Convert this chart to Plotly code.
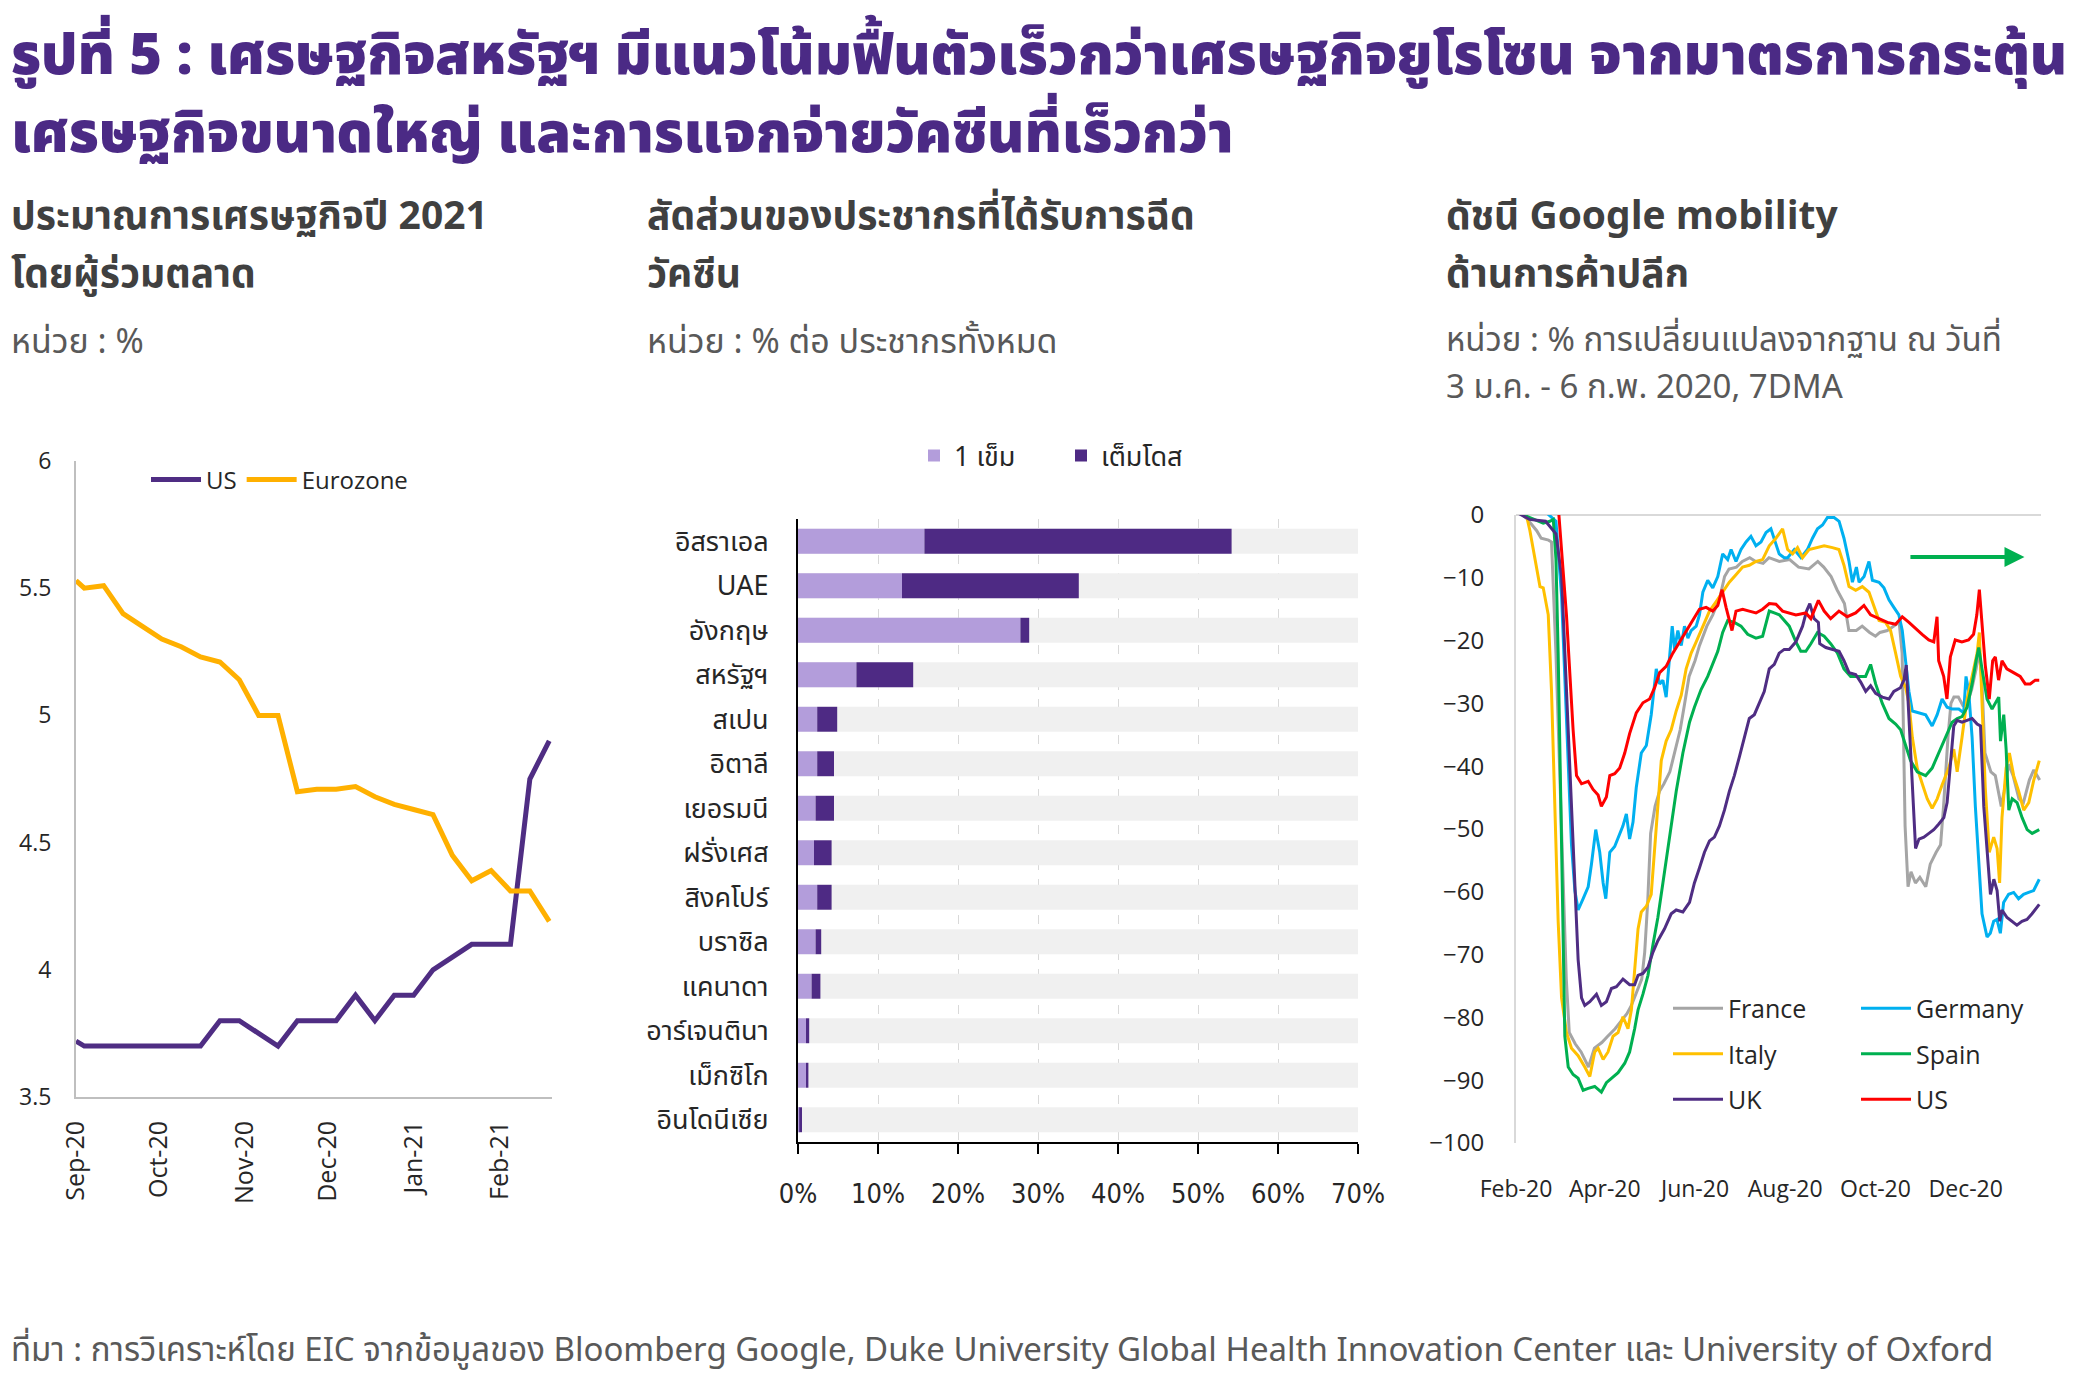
import pandas as pd
import plotly.graph_objects as go

W, H = 2085, 1388

# ---------------- data: left chart (consensus GDP forecast 2021) ----------------
gdp_dates = ["2020-09-01", "2020-09-04", "2020-09-11", "2020-09-18", "2020-09-25", "2020-10-02",
             "2020-10-09", "2020-10-16", "2020-10-23", "2020-10-30", "2020-11-06", "2020-11-13",
             "2020-11-20", "2020-11-27", "2020-12-04", "2020-12-11", "2020-12-18", "2020-12-25",
             "2021-01-01", "2021-01-08", "2021-01-15", "2021-01-22", "2021-01-29", "2021-02-05",
             "2021-02-12", "2021-02-19"]
gdp_us = [3.72, 3.70, 3.70, 3.70, 3.70, 3.70, 3.70, 3.70, 3.80, 3.80, 3.75, 3.70, 3.80,
          3.80, 3.80, 3.90, 3.80, 3.90, 3.90, 4.00, 4.05, 4.10, 4.10, 4.10, 4.75, 4.90]
gdp_ez = [5.53, 5.50, 5.51, 5.40, 5.35, 5.30, 5.27, 5.23, 5.21, 5.14, 5.00, 5.00, 4.70,
          4.71, 4.71, 4.72, 4.68, 4.65, 4.63, 4.61, 4.45, 4.35, 4.39, 4.31, 4.31, 4.19]

# ---------------- data: middle chart (vaccination share) ----------------
vac_countries = ["อิสราเอล", "UAE", "อังกฤษ", "สหรัฐฯ", "สเปน", "อิตาลี", "เยอรมนี", "ฝรั่งเศส",
                 "สิงคโปร์", "บราซิล", "แคนาดา", "อาร์เจนตินา", "เม็กซิโก", "อินโดนีเซีย"]
vac_one_dose = [15.8, 13.0, 27.8, 7.3, 2.4, 2.4, 2.2, 2.0, 2.4, 2.2, 1.7, 1.0, 1.0, 0.15]
vac_full_dose = [38.4, 22.1, 1.1, 7.1, 2.5, 2.1, 2.3, 2.2, 1.8, 0.7, 1.1, 0.4, 0.3, 0.35]
vac_axis_max = 70

# ---------------- data: right chart (Google mobility, retail) ----------------
MOB_START = "2020-02-15"   # day 0
fr_days = [0, 7, 14, 17, 22, 24, 27, 31, 34, 36, 40, 44, 49, 53, 58, 62, 67, 71, 75, 78, 81, 85, 87, 89,
           91, 94, 97, 100, 104, 107, 111, 114, 117, 121, 124, 129, 133, 138, 141, 144, 149, 153, 158,
           162, 167, 171, 178, 185, 191, 198, 204, 208, 213, 217, 222, 225, 230, 234, 239, 243, 246,
           251, 255, 259, 261, 262, 263, 265, 267, 270, 273, 277, 280, 284, 287, 289, 292, 294, 296,
           299, 302, 305, 308, 311, 313, 315, 317, 321, 324, 328, 330, 333, 336, 340, 343, 347, 350, 354]
fr_vals = [1, -0.5, -2.5, -3.7, -4.0, -4.3, -22.0, -52.5, -73.9, -82.4, -84.2, -85.5, -87.9, -84.9,
           -84.0, -83.0, -81.8, -80.6, -79.4, -78.1, -76.3, -73.9, -69.6, -61.7, -50.7, -46.4, -44.0,
           -42.8, -40.9, -37.9, -34.2, -30.0, -25.7, -23.2, -20.8, -17.7, -15.9, -12.9, -9.8, -8.6,
           -8.3, -7.4, -6.8, -7.4, -7.7, -6.8, -7.4, -7.1, -8.3, -8.6, -7.4, -8.3, -9.8, -11.9, -14.1,
           -18.4, -18.4, -17.7, -18.7, -19.3, -18.7, -18.4, -17.7, -17.1, -22.0, -34.2, -49.5, -59.2,
           -56.8, -58.6, -57.7, -59.2, -55.6, -53.7, -52.5, -46.4, -35.4, -30.0, -29.0, -29.0, -30.3,
           -30.0, -27.8, -24.5, -21.4, -26.9, -37.9, -40.9, -41.5, -46.4, -44.0, -39.7, -41.5, -45.2,
           -45.8, -42.2, -40.6, -42.2]

de_days = [0, 10, 20, 27, 30.8, 33, 35.3, 37.5, 39.8, 42, 45.4, 48.8, 51, 53.9, 56.6, 58.9, 60.7, 63.4,
           66.7, 70.1, 72.3, 74.6, 76.8, 79.1, 81.3, 84.7, 88.1, 91.4, 94.8, 97.1, 99.3, 101.5, 103.8,
           105.6, 107.2, 109.4, 111.7, 113.9, 116.2, 118.4, 121.8, 124, 126.3, 129.6, 133, 136.4,
           139.7, 143.1, 145.4, 148.7, 152.1, 155.5, 158.8, 162.2, 165.6, 169, 172.3, 174.6, 177.9,
           181.3, 183.6, 188.1, 192.6, 197, 200.4, 203.8, 207.2, 210.5, 215, 218.4, 221.7, 225.1,
           227.4, 230.1, 231.9, 235.3, 238.6, 240.9, 245.4, 248.7, 252.1, 255.4, 258.8, 261.1, 263.4,
           265.6, 267.9, 272.4, 276.9, 281.3, 284.7, 288, 291.4, 294.8, 299.3, 302.6, 304.2, 306,
           308.3, 310.5, 312.8, 315, 318.4, 320.6, 322.9, 325.1, 327.4, 329.6, 333, 336.4, 339.7,
           343.1, 346.5, 349.9, 353.7]
de_vals = [1, 1, 0.5, -1, -12.9, -25.1, -40.3, -52.5, -59.8, -62.9, -61.1, -59.2, -55.6, -50.1, -53.7,
           -58.6, -61.1, -53.7, -52.8, -50.7, -49.5, -47.6, -51.6, -48.9, -43.4, -37.9, -36.7, -31.8,
           -24.5, -26.9, -26.3, -29.0, -23.2, -17.7, -21.4, -18.4, -20.8, -17.7, -19.6, -18.4, -17.7,
           -15.9, -12.3, -10.4, -11.6, -9.8, -6.2, -7.1, -5.5, -7.4, -5.5, -4.3, -3.4, -4.9, -4.3,
           -2.8, -2.2, -4.0, -6.2, -6.8, -6.8, -5.5, -6.8, -5.5, -3.7, -2.2, -1.6, -0.4, -0.4, -1.0,
           -3.7, -7.4, -10.7, -8.3, -10.7, -9.8, -7.4, -10.4, -10.7, -11.6, -13.5, -14.7, -15.9,
           -18.4, -23.2, -28.1, -31.2, -31.5, -31.8, -33.6, -31.8, -29.3, -30.6, -30.9, -30.9, -31.5,
           -25.7, -28.1, -35.4, -46.4, -55.6, -63.5, -67.2, -66.6, -64.7, -64.4, -66.6, -61.7, -60.4,
           -60.1, -61.1, -60.4, -60.1, -59.8, -58.0]

it_days = [0, 7, 9.4, 12.8, 16.2, 18.4, 21.8, 24, 26.3, 28.5, 30.8, 34.1, 37.5, 42, 46.5, 49.9, 53.2,
           55.5, 58.9, 62.2, 65.6, 69, 72.3, 75.7, 78, 80.2, 82.5, 84.7, 88.1, 91.4, 94.8, 98.2, 101.5,
           104.9, 108.3, 111.7, 115, 118.4, 121.8, 126.3, 130.8, 135.3, 139.7, 144.2, 148.7, 153.2,
           157.7, 162.2, 166.7, 171.2, 175.7, 180.2, 183.6, 187, 190.3, 193.7, 198.1, 203.8, 208.3,
           213.9, 218.3, 221.7, 225.1, 229.6, 234.1, 238.6, 242, 245.4, 249.8, 253.2, 256.6, 260,
           263.4, 265.6, 267.9, 271.2, 274.6, 278, 281.3, 284.7, 288, 292.5, 295.9, 298.2, 301.5,
           304.9, 308.3, 311.7, 313.2, 315, 317.2, 319.9, 322.9, 325.2, 326.9, 328.5, 331.3, 333.5,
           336.4, 339.8, 343.2, 346.6, 350, 353.7]
it_vals = [0.5, 0, -2.5, -6.8, -11.4, -11.6, -15.9, -28.0, -46.4, -64.7, -76.9, -82.4, -84.9, -86.1,
           -87.9, -89.4, -85.5, -84.9, -86.7, -85.5, -83.0, -82.4, -79.9, -81.8, -78.8, -72.0, -65.9,
           -63.2, -62.3, -60.4, -49.5, -39.1, -36.0, -34.2, -31.2, -28.7, -24.5, -22.0, -20.2, -17.7,
           -15.3, -13.8, -12.3, -10.7, -9.5, -8.3, -8.0, -7.4, -7.1, -4.9, -3.7, -2.2, -5.5, -6.2,
           -5.2, -6.8, -5.5, -5.2, -4.9, -5.2, -5.5, -8.0, -11.4, -12.0, -11.4, -12.3, -14.7, -16.8,
           -17.1, -18.4, -22.0, -25.7, -27.5, -30.0, -35.4, -40.3, -42.8, -45.2, -46.7, -45.2, -43.0,
           -40.3, -37.3, -40.9, -35.4, -29.3, -25.7, -22.0, -18.7, -29.3, -43.4, -53.7, -51.3, -53.1,
           -58.6, -48.2, -40.3, -37.9, -41.5, -44.0, -47.0, -45.8, -42.2, -39.1]

es_days = [0, 11.7, 18.4, 22.9, 25.2, 27, 28.5, 30.8, 33, 35.3, 38.6, 42, 45.4, 48.8, 53.2, 57.7, 61.1,
           64.5, 69, 73.5, 76.8, 80.2, 82.5, 85.8, 89.2, 92.6, 95.9, 99.3, 103.8, 108.3, 112.8, 117.3,
           120.6, 125.1, 129.6, 133, 136.4, 139.7, 143.1, 147.6, 152.1, 156.6, 162.2, 166.7, 171.2,
           174.6, 178, 184.7, 189.2, 192.5, 195.9, 199.3, 203.8, 208.3, 212.7, 217.3, 221.7, 226.2,
           231.8, 236.3, 239.7, 243.1, 247.6, 252.1, 256.6, 260, 263.4, 266.7, 271.2, 276.9, 281.3,
           285.8, 290.3, 294.8, 298.2, 301.5, 304.9, 308.3, 311, 312.8, 315, 318.4, 321.8, 325.2,
           326.3, 327.5, 329.7, 331.3, 333.1, 335.4, 338.7, 342.1, 345.5, 348.9, 353.7]
es_vals = [0.5, -0.7, -1.3, -1.0, -0.7, -7.0, -22.0, -52.5, -83.0, -87.9, -89.1, -89.7, -91.6, -91.3,
           -91.0, -91.9, -90.4, -89.7, -88.8, -87.3, -85.5, -81.8, -78.8, -76.3, -73.3, -68.4, -64.1,
           -58.6, -51.3, -44.0, -37.9, -33.0, -30.6, -27.8, -25.7, -23.8, -21.7, -18.7, -16.8, -17.1,
           -17.7, -19.0, -19.6, -19.3, -15.3, -15.6, -15.9, -17.7, -20.2, -21.7, -21.7, -20.5, -18.7,
           -19.3, -20.5, -22.0, -24.5, -25.7, -25.7, -25.7, -23.8, -26.9, -30.0, -32.4, -33.3, -34.2,
           -36.7, -39.1, -40.9, -41.5, -40.3, -37.9, -35.4, -33.0, -32.4, -32.1, -30.6, -26.9, -23.2,
           -21.1, -24.5, -29.3, -30.9, -29.3, -29.0, -36.0, -31.8, -37.3, -47.0, -45.2, -45.8, -48.2,
           -50.1, -50.7, -50.1]

uk_days = [0, 9, 20, 27, 30.8, 34.1, 37.5, 39.8, 42, 44.3, 46.5, 49.9, 54.4, 57.7, 61.1, 64.5, 67.9,
           72.3, 76.8, 80.2, 82.5, 85.8, 89.2, 92.6, 95.9, 100.4, 104.9, 108.3, 112.8, 117.3, 120.6,
           124, 127.4, 130.8, 134.1, 137.5, 140.9, 144.2, 147.6, 151, 154.4, 157.7, 161.1, 164.5,
           167.8, 171.2, 174.6, 177.9, 181.3, 184.7, 189.2, 193.7, 196.4, 198.6, 201.5, 204.4, 205.3,
           209.4, 215, 218.4, 221.7, 225.1, 229.6, 233, 236.4, 239.7, 243.1, 247.6, 252.1, 255.4,
           259.9, 262.2, 263.8, 265.6, 267.9, 270.1, 272.4, 275.7, 279.1, 282.4, 285.8, 289.2, 291.4,
           293.6, 295.9, 298.2, 301.5, 304.9, 308.3, 311.7, 314, 316.2, 318.5, 320.7, 323, 325.2, 327,
           328.5, 331.9, 335.3, 338.6, 342, 345.4, 348.8, 353.7]
uk_vals = [0.5, -0.7, -1.0, -3.0, -9.8, -28.1, -46.4, -58.6, -70.8, -76.9, -78.1, -77.5, -76.3, -78.1,
           -77.5, -75.4, -75.1, -73.9, -74.8, -74.8, -73.3, -73.0, -72.0, -69.6, -67.8, -65.9, -63.5,
           -62.9, -63.2, -61.7, -58.6, -56.2, -53.7, -51.9, -51.3, -49.5, -47.0, -44.0, -41.5, -38.5,
           -35.4, -32.4, -31.8, -30.0, -28.1, -24.5, -23.8, -22.0, -21.4, -21.4, -20.2, -17.7, -15.3,
           -14.1, -16.5, -17.1, -20.5, -21.1, -21.4, -21.7, -23.2, -25.1, -25.4, -26.6, -28.1, -27.2,
           -28.4, -29.0, -29.3, -28.1, -27.5, -26.3, -23.9, -31.8, -44.0, -53.1, -51.6, -51.3, -50.7,
           -50.1, -49.2, -48.2, -45.8, -39.1, -33.6, -32.7, -33.0, -32.7, -32.4, -33.3, -33.6, -46.4,
           -53.7, -60.4, -58.0, -59.8, -64.7, -62.9, -64.1, -64.7, -65.3, -64.7, -64.4, -63.5, -62.0]

us_days = [0, 10, 20, 26, 29, 34.1, 38.6, 40.9, 44.3, 48.8, 52.1, 55.5, 57.7, 61.1, 63.4, 66.7, 70.1,
           73.5, 76.8, 81.3, 85.8, 90.3, 93.7, 97.1, 101.5, 106, 110.5, 115, 119.5, 124, 128.5, 133,
           136.4, 139.3, 142, 146, 148.7, 153.2, 157.7, 162.2, 166.7, 171.2, 175.7, 180.2, 189.2,
           195.9, 199.3, 204.4, 208.3, 212.7, 218.3, 223.9, 229.6, 235.2, 239.7, 245.3, 251, 256.6,
           261.1, 265.6, 270, 274.5, 279, 282.4, 284.6, 285.7, 289.1, 291.3, 293.6, 296.9, 301.4,
           305.9, 309.3, 311.5, 313.2, 315, 317.2, 319.9, 322.2, 324, 326.2, 328.5, 331.8, 336.3,
           340.8, 344.2, 347.6, 351, 353.7]
us_vals = [3, 4, 5, 4, 0, -15.9, -34.2, -41.5, -42.8, -42.4, -43.7, -44.6, -46.4, -44.9, -41.5, -41.2,
           -40.3, -37.9, -34.8, -31.5, -29.9, -29.3, -27.5, -25.1, -24.1, -22.0, -20.2, -18.4, -16.8,
           -15.0, -14.7, -15.3, -14.4, -11.9, -14.7, -18.4, -15.3, -15.0, -15.3, -15.6, -15.0, -14.1,
           -14.2, -15.3, -15.9, -15.6, -16.5, -13.6, -15.3, -16.5, -15.3, -16.2, -15.6, -14.4, -15.9,
           -16.5, -17.1, -17.4, -16.2, -17.1, -18.1, -19.0, -19.9, -20.2, -16.2, -23.2, -25.7, -29.3,
           -22.6, -19.9, -20.2, -19.9, -19.0, -15.9, -11.9, -17.7, -23.9, -29.3, -23.2, -22.6, -26.3,
           -23.2, -24.5, -25.1, -25.7, -26.9, -26.9, -26.3, -26.3]

mob_series = [
    ("France", fr_days, fr_vals, "#A5A5A5", "legend3"),
    ("Germany", de_days, de_vals, "#00B0F0", "legend4"),
    ("Italy", it_days, it_vals, "#FFC000", "legend3"),
    ("Spain", es_days, es_vals, "#00B050", "legend4"),
    ("UK", uk_days, uk_vals, "#4F2D83", "legend3"),
    ("US", us_days, us_vals, "#FF0000", "legend4"),
]

# ---------------- texts ----------------
title_line1 = "รูปที่ 5 : เศรษฐกิจสหรัฐฯ มีแนวโน้มฟื้นตัวเร็วกว่าเศรษฐกิจยูโรโซน จากมาตรการกระตุ้น"
title_line2 = "เศรษฐกิจขนาดใหญ่ และการแจกจ่ายวัคซีนที่เร็วกว่า"
footer = ("ที่มา : การวิเคราะห์โดย EIC จากข้อมูลของ Bloomberg Google, Duke University Global Health "
          "Innovation Center และ University of Oxford")

# ---------------- styles ----------------
PURPLE = "#4F2D83"
ORANGE = "#FFB000"
LIGHT_PURPLE = "#B39DDB"
DARK_PURPLE = "#4E2A84"
THAI = "Noto Sans Thai, Noto Sans, DejaVu Sans, sans-serif"
TICKFONT = "Open Sans, Noto Sans, sans-serif"
NARROW = "Liberation Sans Narrow, DejaVu Sans Condensed, sans-serif"

PAGE_OFFSET = 8  # the page body adds 8px around the figure


def px_x(p):
    return max(p - PAGE_OFFSET, 1) / W


def px_y(p):
    return 1 - (p - PAGE_OFFSET) / H


def mob_dates(days):
    return pd.Timestamp(MOB_START) + pd.to_timedelta(days, unit="D")


fig = go.Figure()

# left chart
fig.add_trace(go.Scatter(x=gdp_dates, y=gdp_us, mode="lines", name="US",
                         line=dict(color=PURPLE, width=5), xaxis="x", yaxis="y", legend="legend"))
fig.add_trace(go.Scatter(x=gdp_dates, y=gdp_ez, mode="lines", name="Eurozone",
                         line=dict(color=ORANGE, width=5), xaxis="x", yaxis="y", legend="legend"))

# middle chart
fig.add_trace(go.Bar(y=vac_countries, x=[vac_axis_max] * len(vac_countries), orientation="h",
                     marker=dict(color="#F0F0F0", line=dict(width=0)), showlegend=False,
                     hoverinfo="skip", xaxis="x2", yaxis="y2"))
fig.add_trace(go.Bar(y=vac_countries, x=vac_one_dose, orientation="h", name="1 เข็ม",
                     marker=dict(color=LIGHT_PURPLE, line=dict(width=0)), xaxis="x2", yaxis="y2",
                     legend="legend2"))
fig.add_trace(go.Bar(y=vac_countries, x=vac_full_dose, base=vac_one_dose, orientation="h",
                     name="เต็มโดส", marker=dict(color=DARK_PURPLE, line=dict(width=0)),
                     xaxis="x2", yaxis="y2", legend="legend2"))

# right chart
for name, days, vals, color, lg in mob_series:
    fig.add_trace(go.Scatter(x=mob_dates(days), y=vals, mode="lines", name=name,
                             line=dict(color=color, width=3), xaxis="x3", yaxis="y3",
                             legend=lg, legendgroup=name))

# arrow in mobility chart
ARROW_FROM_DAY, ARROW_TO_DAY, ARROW_Y = 265.6, 343.7, -6.7
fig.add_annotation(x=mob_dates([ARROW_TO_DAY])[0].strftime("%Y-%m-%d %H:%M"), y=ARROW_Y,
                   ax=mob_dates([ARROW_FROM_DAY])[0].strftime("%Y-%m-%d %H:%M"), ay=ARROW_Y,
                   xref="x3", yref="y3", axref="x3", ayref="y3", text="", showarrow=True,
                   arrowhead=2, arrowsize=1, arrowwidth=4, arrowcolor="#00B050")

axis_gray = "#BFBFBF"
fig.update_layout(
    width=W, height=H, margin=dict(l=0, r=0, t=0, b=0, autoexpand=False),
    paper_bgcolor="white", plot_bgcolor="white", barmode="overlay", bargap=0.44,
    xaxis=dict(domain=[px_x(76), px_x(552)], type="date", range=["2020-09-01", "2021-02-20"],
               tick0="2020-09-01", dtick="M1", tickformat="%b-%y", tickangle=-90,
               showgrid=False, zeroline=False, showline=True, linecolor=axis_gray, linewidth=2,
               ticks="", ticklabelstandoff=12, automargin=False,
               tickfont=dict(family=TICKFONT, size=25, color="#262626"), anchor="y"),
    yaxis=dict(domain=[px_y(1097), px_y(461)], range=[3.5, 6], dtick=0.5, showgrid=False,
               zeroline=False, showline=True, linecolor=axis_gray, linewidth=2, ticks="",
               ticklabelstandoff=18, automargin=False,
               tickfont=dict(family=TICKFONT, size=23, color="#262626"), anchor="x"),
    xaxis2=dict(domain=[px_x(798), px_x(1358)], range=[0, 70], dtick=10, ticksuffix="%",
                showgrid=True, gridcolor="#D9D9D9", griddash="dash", gridwidth=1, zeroline=False,
                showline=True, linecolor="black", linewidth=2, ticks="outside", ticklen=10,
                tickcolor="black", tickwidth=2, ticklabelstandoff=17, automargin=False,
                tickfont=dict(family=NARROW, size=27, color="#262626"), anchor="y2"),
    yaxis2=dict(domain=[px_y(1142), px_y(519)], autorange="reversed", showgrid=False,
                zeroline=False, showline=True, linecolor="black", linewidth=2, ticks="",
                ticklabelstandoff=22, automargin=False,
                tickfont=dict(family=THAI, size=27, color="#262626"), anchor="x2"),
    xaxis3=dict(domain=[px_x(1516), px_x(2041)], type="date",
                range=["2020-02-15", "2021-02-03 21:00"], tick0="2020-02-15", dtick="M2",
                tickformat="%b-%y", showgrid=False, zeroline=False, showline=False, ticks="",
                ticklabelstandoff=30, automargin=False,
                tickfont=dict(family=TICKFONT, size=23, color="#262626"), anchor="y3"),
    yaxis3=dict(domain=[px_y(1143), px_y(515)], range=[-100, 0], dtick=10, showgrid=False,
                zeroline=True, zerolinecolor="#D9D9D9", zerolinewidth=2, showline=True,
                linecolor="#D9D9D9", linewidth=2, ticks="", ticklabelstandoff=25, automargin=False,
                tickfont=dict(family=TICKFONT, size=24, color="#262626"), anchor="x3"),
    legend=dict(orientation="h", x=px_x(146), y=px_y(480), xanchor="left", yanchor="middle",
                font=dict(family=TICKFONT, size=24, color="#262626"), bgcolor="rgba(0,0,0,0)",
                itemwidth=50),
    legend2=dict(orientation="h", x=px_x(914), y=px_y(456), xanchor="left", yanchor="middle",
                 font=dict(family=THAI, size=27, color="#262626"), bgcolor="rgba(0,0,0,0)",
                 entrywidth=102),
    legend3=dict(orientation="v", x=px_x(1668), y=px_y(1054), xanchor="left", yanchor="middle",
                 font=dict(family=TICKFONT, size=25, color="#262626"), bgcolor="rgba(0,0,0,0)",
                 tracegroupgap=10, itemwidth=50),
    legend4=dict(orientation="v", x=px_x(1856), y=px_y(1054), xanchor="left", yanchor="middle",
                 font=dict(family=TICKFONT, size=25, color="#262626"), bgcolor="rgba(0,0,0,0)",
                 tracegroupgap=10, itemwidth=50),
)


def add_text(text, x, y_mid, size, color, weight="normal", family=THAI):
    fig.add_annotation(text=text, x=px_x(x), y=px_y(y_mid), xref="paper", yref="paper",
                       xanchor="left", yanchor="middle", showarrow=False, align="left",
                       font=dict(family=family, size=size, color=color, weight=weight))


TITLE_C = "#4B2A85"
SUB_C = "#404040"
UNIT_C = "#595959"
add_text(title_line1, 5, 56, 56, TITLE_C, weight=900)
add_text(title_line2, 5, 134, 56, TITLE_C, weight=900)

add_text("ประมาณการเศรษฐกิจปี 2021", 0, 217, 39, SUB_C, weight="bold")
add_text("โดยผู้ร่วมตลาด", 0, 275, 39, SUB_C, weight="bold")
add_text("หน่วย : %", 0, 342, 34, UNIT_C)

add_text("สัดส่วนของประชากรที่ได้รับการฉีด", 645, 217, 39, SUB_C, weight="bold")
add_text("วัคซีน", 645, 275, 39, SUB_C, weight="bold")
add_text("หน่วย : % ต่อ ประชากรทั้งหมด", 645, 342, 34, UNIT_C)

add_text("ดัชนี Google mobility", 1444, 217, 39, SUB_C, weight="bold")
add_text("ด้านการค้าปลีก", 1444, 275, 39, SUB_C, weight="bold")
add_text("หน่วย : % การเปลี่ยนแปลงจากฐาน ณ วันที่", 1444, 341, 33, UNIT_C)
add_text("3 ม.ค. - 6 ก.พ. 2020, 7DMA", 1444, 388, 33, UNIT_C)

add_text(footer, 5, 1351, 33, UNIT_C)

fig.write_html("out.html")
